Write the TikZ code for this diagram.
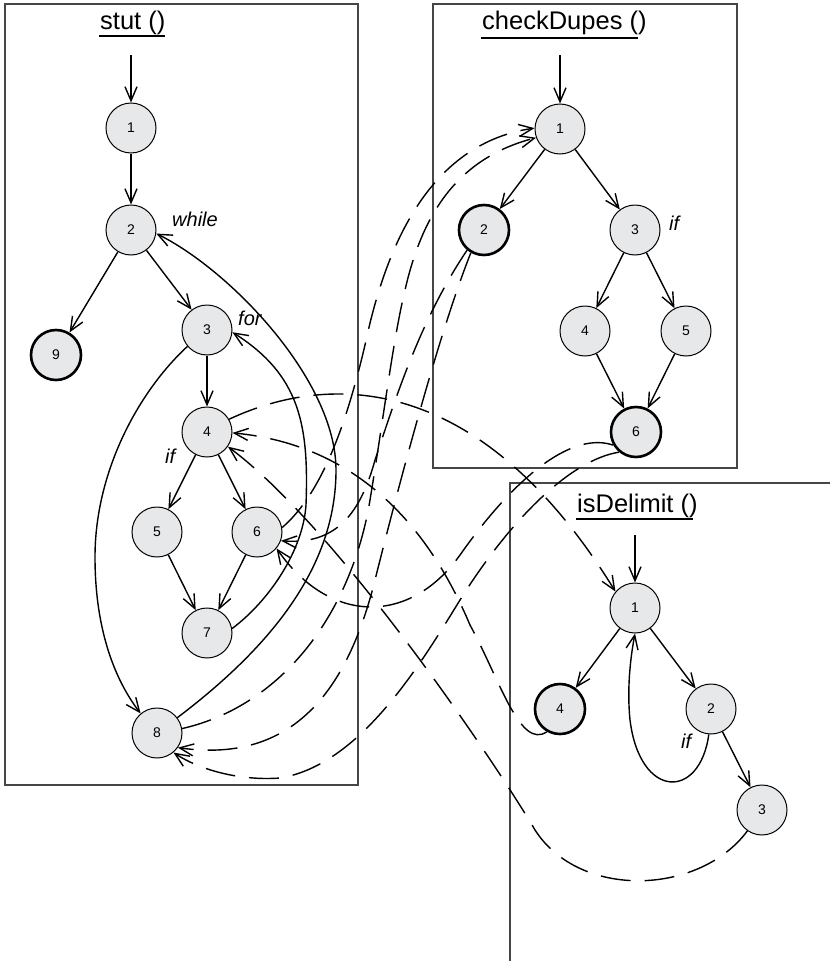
\documentclass[tikz,border=0pt]{standalone}
\usepackage{fontspec}
\setmainfont{Liberation Sans}
\usetikzlibrary{arrows.meta,calc}
\definecolor{nodefill}{RGB}{231,232,234}
\definecolor{framecol}{RGB}{70,70,70}
\begin{document}
\begin{tikzpicture}[x=1pt,y=-1pt,
  cnode/.style={circle,draw=black,line width=1pt,fill=nodefill,minimum size=50pt,inner sep=0pt,font=\fontsize{14}{14}\selectfont},
  exitnode/.style={cnode,line width=2.6pt},
  edge/.style={line width=1.4pt,-{Straight Barb[length=14pt,width=12pt]}},
  dedge/.style={edge,dash pattern=on 30pt off 14pt},
  frame/.style={draw=framecol,line width=1.1pt},
  title/.style={font=\fontsize{25.5}{25.5}\selectfont,anchor=base west,inner sep=0pt},
  lbl/.style={font=\fontsize{20}{20}\selectfont\itshape,anchor=base west,inner sep=0pt},
  uline/.style={line width=2.2pt}]
\useasboundingbox (0,0) rectangle (830,961);

% frames
\draw[frame] (5,4) rectangle (358,785);
\draw[frame] (433,4) rectangle (737,468);
\draw[frame] (510,961) -- (510,483) -- (830,483);

% titles
\node[title] (tstut) at (100,29) {stut ()};
\node[title] (tcd) at (482,29) {checkDupes ()};
\node[title] (tid) at (577,512) {isDelimit ()};
\draw[uline] ($(tstut.base west)+(-1,7)$) -- ($(tstut.base east)+(-1,7)$);
\draw[uline] ($(tcd.base west)+(-1,9)$) -- ($(tcd.base east)+(-9,9)$);
\draw[uline] ($(tid.base west)+(-1,7)$) -- ($(tid.base east)+(-5,7)$);

% stut nodes
\node[cnode] (s1) at (131,128) {1};
\node[cnode] (s2) at (131,230) {2};
\node[cnode] (s3) at (207,330) {3};
\node[cnode] (s4) at (207,432) {4};
\node[cnode] (s5) at (157,532) {5};
\node[cnode] (s6) at (257,532) {6};
\node[cnode] (s7) at (207,633) {7};
\node[cnode] (s8) at (157,733) {8};
\node[exitnode] (s9) at (56,355) {9};
% checkDupes nodes
\node[cnode] (c1) at (560,129) {1};
\node[exitnode] (c2) at (484,230) {2};
\node[cnode] (c3) at (635,230) {3};
\node[cnode] (c4) at (585,331) {4};
\node[cnode] (c5) at (686,331) {5};
\node[exitnode] (c6) at (636,432) {6};
% isDelimit nodes
\node[cnode] (i1) at (635,608) {1};
\node[exitnode] (i4) at (560,709) {4};
\node[cnode] (i2) at (711,709) {2};
\node[cnode] (i3) at (762,810) {3};

% labels
\node[lbl] (lwhile) at (172,226) {while};
\node[lbl] (lfor) at (238,325) {for};
\node[lbl] (lif1) at (165,463) {if};
\node[lbl] (lif2) at (669,230) {if};
\node[lbl] (lif3) at (681,748) {if};

% entry points
\coordinate (es) at (131,55);
\coordinate (ec) at (560,55);
\coordinate (ei) at (635,535);

% stut edges
\draw[edge] (es) -- (s1);
\draw[edge] (s1) -- (s2);
\draw[edge] (s2) -- (s9);
\draw[edge] (s2) -- (s3);
\draw[edge] (s3) -- (s4);
\draw[edge] (s4) -- (s5);
\draw[edge] (s4) -- (s6);
\draw[edge] (s5) -- (s7);
\draw[edge] (s6) -- (s7);
\draw[edge] (s3.220) .. controls (140,390) and (95,470) .. (95,557) .. controls (95,630) and (115,680) .. (s8.130);
\draw[edge] (s7.10) .. controls (270,600) and (303,550) .. (306,505) .. controls (309,425) and (300,375) .. (s3.-5);
\draw[edge] (s8.37) .. controls (280,640) and (336,560) .. (336,470) .. controls (336,380) and (230,270) .. (s2.-8);

% checkDupes edges
\draw[edge] (ec) -- (c1);
\draw[edge] (c1) -- (c2);
\draw[edge] (c1) -- (c3);
\draw[edge] (c3) -- (c4);
\draw[edge] (c3) -- (c5);
\draw[edge] (c4) -- (c6);
\draw[edge] (c5) -- (c6);

% isDelimit edges
\draw[edge] (ei) -- (i1);
\draw[edge] (i1) -- (i4);
\draw[edge] (i1) -- (i2);
\draw[edge] (i2) -- (i3);
\draw[edge] (i2.-95) .. controls (700,800) and (640,800) .. (630,720) .. controls (627,690) and (630,660) .. (i1.-90);

% interprocedural (dashed) edges
\draw[dedge] (s6.10) .. controls (320,495) and (345,430) .. (365,345) .. controls (382,265) and (420,145) .. (c1.178);
\draw[dedge] (s8.10) .. controls (285,705) and (352,610) .. (370,500) .. controls (384,415) and (393,340) .. (405,290) .. controls (420,225) and (450,160) .. (c1.200);
\draw[dedge] (c2.230) .. controls (420,320) and (395,400) .. (375,460) .. controls (360,515) and (335,545) .. (s6.-20);
\draw[dedge] (c2.240) .. controls (440,330) and (400,480) .. (375,580) .. controls (350,680) and (300,765) .. (s8.-35);
\draw[dedge] (c6.210) .. controls (575,432) and (520,470) .. (460,555) .. controls (410,625) and (330,625) .. (s6.-40);
\draw[dedge] (c6.230) .. controls (570,460) and (510,520) .. (460,600) .. controls (420,665) and (360,765) .. (280,778) .. controls (240,781) and (200,770) .. (s8.-50);
\draw[dedge] (s4.30) .. controls (330,372) and (480,372) .. (i1.140);
\draw[dedge] (i4.240) .. controls (520,750) and (500,680) .. (470,625) .. controls (430,530) and (360,445) .. (s4.-2);
\draw[dedge] (i3.235) .. controls (700,895) and (580,900) .. (535,830) .. controls (500,770) and (340,530) .. (s4.-35);
\end{tikzpicture}
\end{document}
